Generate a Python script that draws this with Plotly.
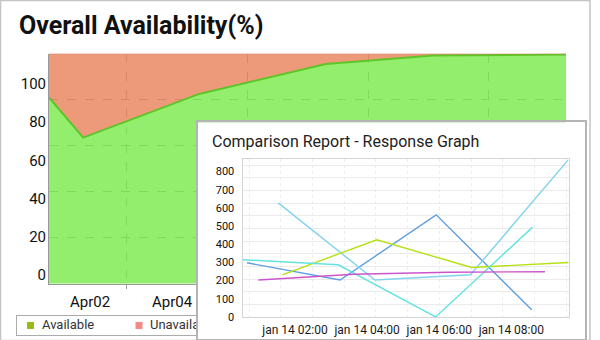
import plotly.graph_objects as go

# ---- Overall availability (stacked %, per day) ----
avail_time = ["2014-04-01 00:00", "2014-04-01 20:00", "2014-04-04 16:00",
              "2014-04-07 18:00", "2014-04-10 09:00", "2014-04-13 15:00"]
available = [81.0, 63.5, 82.5, 95.5, 99.2, 99.6]
unavailable = [19.0, 36.5, 17.5, 4.5, 0.8, 0.4]
day_ticks = ["2014-04-02", "2014-04-04"]
day_labels = ["Apr02", "Apr04"]
pct_ticks = [0, 20, 40, 60, 80, 100]
legend_names = ["Available", "Unavailable"]
legend_colors = ["#99bb11", "#f58a82"]

# ---- Comparison report: response time per monitor ----
resp_ticks = ["2014-01-14 02:00", "2014-01-14 04:00",
              "2014-01-14 06:00", "2014-01-14 08:00"]
resp_labels = ["jan 14 02:00", "jan 14 04:00", "jan 14 06:00", "jan 14 08:00"]
resp_yticks = [0, 100, 200, 300, 400, 500, 600, 700, 800]

t_blue = ["2014-01-14 00:40", "2014-01-14 03:15", "2014-01-14 05:55", "2014-01-14 08:34"]
v_blue = [298, 203, 562, 39]
t_sky = ["2014-01-14 01:32", "2014-01-14 04:13", "2014-01-14 06:52", "2014-01-14 09:34"]
v_sky = [628, 203, 232, 862]
t_lime = ["2014-01-14 01:39", "2014-01-14 04:16", "2014-01-14 06:54", "2014-01-14 09:35"]
v_lime = [232, 425, 272, 300]
t_aqua = ["2014-01-14 00:33", "2014-01-14 03:12", "2014-01-14 05:54", "2014-01-14 08:35"]
v_aqua = [315, 287, 0, 493]
t_violet = ["2014-01-14 00:59", "2014-01-14 03:38", "2014-01-14 06:16", "2014-01-14 08:56"]
v_violet = [203, 235, 246, 249]

# layout is laid out on a 600 x 340 grid of pixels
W, H = 600, 340
FIG_H = 348
FONT = "Roboto"


def dx(a, b):
    return [a / W, b / W]


def dy(top, bottom):
    return [1 - bottom / H, 1 - top / H]


fig = go.Figure()

# main stacked area chart
fig.add_trace(go.Scatter(
    x=avail_time, y=available, name=legend_names[0], stackgroup="av",
    mode="lines", line=dict(color="#5ec528", width=2),
    fillcolor="rgba(120,234,74,0.8)", xaxis="x", yaxis="y"))
fig.add_trace(go.Scatter(
    x=avail_time, y=unavailable, name=legend_names[1], stackgroup="av",
    mode="lines", line=dict(color="#c9714f", width=1),
    fillcolor="rgba(231,129,89,0.8)", xaxis="x", yaxis="y"))
# helper axes of the main chart (grid + value labels)
fig.add_trace(go.Scatter(x=[], y=[], xaxis="x5", yaxis="y5", hoverinfo="skip"))

# hand-made legend box below the main chart
fig.add_trace(go.Scatter(
    x=[13.5, 122], y=[0.5, 0.5], mode="markers", xaxis="x2", yaxis="y2",
    marker=dict(symbol="square", size=7, color=legend_colors), hoverinfo="skip"))
fig.add_trace(go.Scatter(
    x=[25, 133], y=[0.5, 0.5], mode="text", text=legend_names,
    textposition="middle right", xaxis="x2", yaxis="y2",
    textfont=dict(family=FONT, size=13, color="#333333"), hoverinfo="skip"))

# white panel holding the comparison chart
fig.add_trace(go.Scatter(x=[], y=[], xaxis="x3", yaxis="y3", hoverinfo="skip"))

# response time lines
for t, v, c in [(t_blue, v_blue, "#5e9ee2"), (t_sky, v_sky, "#7fd3ef"),
                (t_lime, v_lime, "#b5e012"), (t_aqua, v_aqua, "#63e2e2"),
                (t_violet, v_violet, "#cc55cc")]:
    fig.add_trace(go.Scatter(x=t, y=v, mode="lines", xaxis="x4", yaxis="y4",
                             line=dict(color=c, width=1.4)))
fig.add_trace(go.Scatter(x=[], y=[], xaxis="x6", yaxis="y6", hoverinfo="skip"))

plain = dict(showgrid=False, zeroline=False, showticklabels=False, ticks="")

fig.update_layout(
    width=W, height=FIG_H, margin=dict(l=0, r=0, t=0, b=0),
    paper_bgcolor="white", plot_bgcolor="white", showlegend=False,
    font=dict(family=FONT, color="#111111"),
    xaxis=dict(domain=dx(49, 566), anchor="y", type="date",
               range=["2014-04-01 00:00", "2014-04-13 14:38"],
               tickvals=day_ticks, ticktext=day_labels, showgrid=False,
               zeroline=False, showline=True, linecolor="#9a9a9a", ticks="",
               ticklabelstandoff=4, tickfont=dict(size=15, color="#111111")),
    yaxis=dict(domain=dy(53.5, 283), anchor="x", range=[0, 100], dtick=20,
               showgrid=True, griddash="dash", gridcolor="#999999",
               showticklabels=False, zeroline=False, showline=True,
               linecolor="#9a9a9a", ticks=""),
    xaxis5=dict(overlaying="x", anchor="y5", range=[0, 4.29], tick0=0.647, dtick=1,
                showgrid=True, griddash="dash", gridcolor="#999999",
                showticklabels=False, zeroline=False, ticks="outside",
                ticklen=4, tickcolor="#9a9a9a", side="bottom"),
    yaxis5=dict(overlaying="y", anchor="x5", side="left", range=[-4.6, 115.9],
                tickvals=pct_ticks, showgrid=False, zeroline=False, ticks="",
                ticklabelstandoff=2, tickfont=dict(size=15, color="#111111")),
    xaxis2=dict(domain=dx(17, 300), anchor="y2", range=[0, 283], showline=True,
                mirror=True, linecolor="#ababab", linewidth=1, **plain),
    yaxis2=dict(domain=dy(315, 334), anchor="x2", range=[0, 1], showline=True,
                mirror=True, linecolor="#ababab", linewidth=1, **plain),
    xaxis3=dict(domain=dx(198, 585), anchor="y3", range=[0, 1], showline=True,
                mirror=True, linecolor="#b4b4b4", linewidth=2, **plain),
    yaxis3=dict(domain=dy(122, 338), anchor="x3", range=[0, 1], showline=True,
                mirror=True, linecolor="#b4b4b4", linewidth=2, **plain),
    xaxis4=dict(domain=dx(242.5, 569), anchor="y4", type="date",
                range=["2014-01-14 00:32:36", "2014-01-14 09:36"],
                tickvals=resp_ticks, ticktext=resp_labels, showgrid=False,
                zeroline=False, showline=True, mirror=True, linecolor="#d4d4d4",
                ticks="", ticklabelstandoff=2,
                tickfont=dict(size=12, color="#1a1a1a")),
    yaxis4=dict(domain=dy(159, 316), anchor="x4", range=[0, 867],
                tickvals=resp_yticks, showgrid=False, zeroline=False,
                showline=True, mirror=True, linecolor="#d4d4d4", ticks="",
                ticklabelstandoff=5, tickfont=dict(size=11, color="#111111")),
    xaxis6=dict(overlaying="x4", anchor="y6", range=[-0.205, 10.09], tick0=0, dtick=1,
                showgrid=True, gridcolor="#ececec", griddash="dot",
                zeroline=False, showticklabels=False, ticks=""),
    yaxis6=dict(overlaying="y4", anchor="x6", range=[0, 12.46], tick0=0, dtick=1,
                showgrid=True, gridcolor="#ebebeb", zeroline=False,
                showticklabels=False, ticks=""),
    shapes=[dict(type="rect", xref="paper", yref="paper", layer="below",
                 x0=0.5 / W, x1=590 / W, y0=1 - 339.5 / H, y1=1 - 0.5 / H,
                 line=dict(color="#c4c4c4", width=1.5))],
    annotations=[
        dict(text="Overall Availability(%)", xref="paper", yref="paper",
             x=16.5 / W, y=1 - 25 / H, xanchor="left", yanchor="middle",
             showarrow=False,
             font=dict(family=FONT, size=25, color="#111111", weight=700)),
        dict(text="Comparison Report - Response Graph", xref="paper", yref="paper",
             x=210 / W, y=1 - 141 / H, xanchor="left", yanchor="middle",
             showarrow=False, font=dict(family=FONT, size=16, color="#222222")),
    ],
)

fig.write_html("out.html")
